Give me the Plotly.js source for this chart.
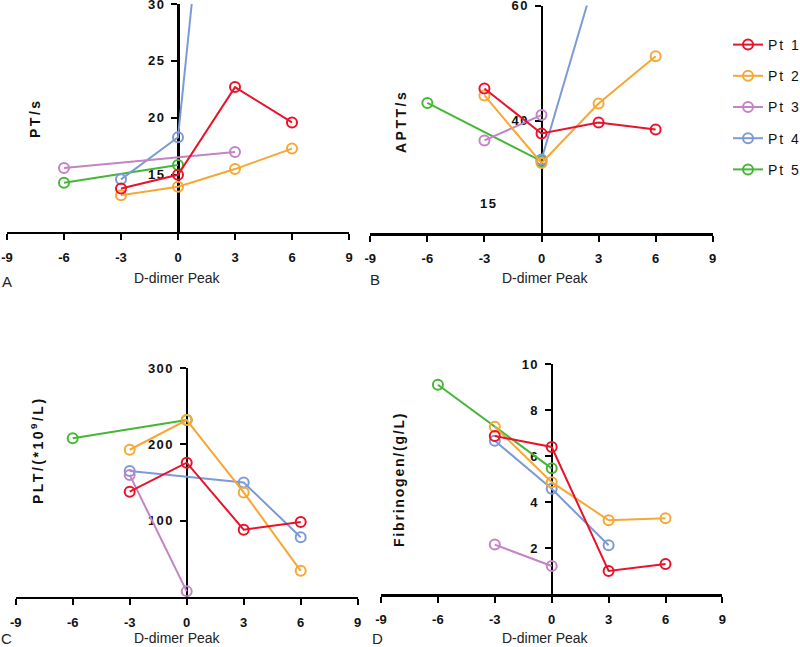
<!DOCTYPE html>
<html>
<head>
<meta charset="utf-8">
<script src="https://cdn.plot.ly/plotly-3.0.1.min.js"></script>
<style>html,body{margin:0;padding:0;background:#fff;}</style>
</head>
<body>
<div id="chart" style="width:800px;height:647px;"></div>
<script>
// ---- data ----
const patients = ['Pt 1', 'Pt 2', 'Pt 3', 'Pt 4', 'Pt 5'];
const colors = ['#E8132B', '#F6A735', '#C383C4', '#7C9BD6', '#46B637'];
const xTicks = [-9, -6, -3, 0, 3, 6, 9];

const days_PT = [[-3, 0, 3, 6], [-3, 0, 3, 6], [-6, 3], [-3, 0, 3], [-6, 0]];
const PT = [[13.8, 15.0, 22.7, 19.6], [13.2, 13.95, 15.5, 17.3], [15.6, 17.0], [14.6, 18.3, 67], [14.3, 15.85]];

const days_APTT = [[-3, 0, 3, 6], [-3, 0, 3, 6], [-3, 0], [0, 3], [-6, 0]];
const APTT = [[45.6, 37.8, 39.7, 38.5], [44.4, 32.7, 43.0, 51.2], [36.6, 41.0], [33.3, 66.9], [43.1, 33.0]];

const days_PLT = [[-3, 0, 3, 6], [-3, 0, 3, 6], [-3, 0], [-3, 3, 6], [-6, 0]];
const PLT = [[138, 176, 88, 98], [193, 232, 137, 34], [160, 7], [165, 150, 78], [208, 232]];

const days_FIB = [[-3, 0, 3, 6], [-3, 0, 3, 6], [-3, 0], [-3, 0, 3], [-6, 0]];
const FIB = [[6.88, 6.4, 1.0, 1.31], [7.28, 4.87, 3.21, 3.3], [2.15, 1.22], [6.67, 4.58, 2.12], [9.11, 5.47]];

const yTicksPT = [15, 20, 25, 30];
const yTicksAPTT = [40, 60];
const yTicksPLT = [100, 200, 300];
const yTicksFIB = [2, 4, 6, 8, 10];

// ---- build ----
const W = 800, H = 647;
const px = v => v / W;
const py = v => 1 - v / H;
const sp = (t, s) => '<span style="letter-spacing:' + s + 'px">' + t + '</span>';

const panels = [
  {days: days_PT, vals: PT, xa: 'x', ya: 'y'},
  {days: days_APTT, vals: APTT, xa: 'x2', ya: 'y2'},
  {days: days_PLT, vals: PLT, xa: 'x3', ya: 'y3'},
  {days: days_FIB, vals: FIB, xa: 'x4', ya: 'y4'}
];

const traces = [];
panels.forEach((p, pi) => {
  for (let i = patients.length - 1; i >= 0; i--) {
    traces.push({
      x: p.days[i], y: p.vals[i], xaxis: p.xa, yaxis: p.ya,
      type: 'scatter', mode: 'lines+markers',
      name: sp(patients[i], 2),
      legendgroup: 'g' + i, legendrank: i + 1,
      showlegend: pi === 0,
      line: {color: colors[i], width: 2},
      marker: {symbol: 'circle-open', size: 10, color: colors[i], line: {width: 2, color: colors[i]}},
      cliponaxis: true
    });
  }
});

const tickFont = {family: 'Liberation Sans, Arial, sans-serif', size: 13, color: '#111', weight: 'bold'};

function xAx(d0, d1, anchor) {
  return {
    domain: [px(d0), px(d1)], range: [-9, 9], anchor: anchor,
    tickvals: xTicks, ticktext: xTicks.map(String),
    ticks: 'outside', ticklen: 6, tickwidth: 2, tickcolor: '#000',
    showline: true, linewidth: 2.5, linecolor: '#000',
    showgrid: false, zeroline: false, layer: 'below traces',
    tickfont: tickFont, ticklabelstandoff: 6, ticklabeloverflow: 'allow', fixedrange: true
  };
}
function yAx(top, bottom, range, vals, xd0, xd1) {
  return {
    domain: [py(bottom), py(top)], range: range, anchor: 'free',
    position: (px(xd0) + px(xd1)) / 2,
    tickvals: vals, ticktext: vals.map(v => sp(String(v), 1.5)),
    ticks: 'outside', ticklen: 6, tickwidth: 2, tickcolor: '#000',
    showline: true, linewidth: 2.5, linecolor: '#000',
    showgrid: false, zeroline: false, layer: 'below traces',
    tickfont: tickFont, ticklabelstandoff: 3, ticklabeloverflow: 'allow', fixedrange: true
  };
}

const titleFont = {family: 'Liberation Sans, Arial, sans-serif', size: 14, color: '#111', weight: 'bold'};
const xtFont = {family: 'Liberation Sans, Arial, sans-serif', size: 14, color: '#222'};
const letterFont = {family: 'Liberation Sans, Arial, sans-serif', size: 15, color: '#222'};

function ann(text, x, y, font, angle) {
  return {text: text, x: px(x), y: py(y), xref: 'paper', yref: 'paper',
    xanchor: 'center', yanchor: 'middle', showarrow: false, font: font, textangle: angle || 0};
}

const annotations = [
  ann(sp('PT/s', 2.5), 35, 118, titleFont, -90),
  ann(sp('APTT/s', 2.5), 401, 122, titleFont, -90),
  ann(sp('PLT/(*10<sup>9</sup>/L)', 2.5), 37, 450, titleFont, -90),
  ann(sp('Fibrinogen/(g/L)', 1.8), 399, 480, titleFont, -90),
  ann('D-dimer Peak', 177, 278, xtFont),
  ann('D-dimer Peak', 545, 278, xtFont),
  ann('D-dimer Peak', 177, 638, xtFont),
  ann('D-dimer Peak', 545, 638, xtFont),
  ann('A', 7, 281, letterFont),
  ann('B', 375, 280, letterFont),
  ann('C', 6, 638, letterFont),
  ann('D', 377, 638, letterFont),
  ann(sp('15', 1.5), 489, 203, tickFont)
];

const layout = {
  width: W, height: H,
  margin: {l: 0, r: 0, t: 0, b: 0, pad: 0, autoexpand: false},
  paper_bgcolor: '#fff', plot_bgcolor: 'rgba(0,0,0,0)',
  showlegend: true,
  legend: {
    x: px(728), y: py(29), xanchor: 'left', yanchor: 'top',
    traceorder: 'grouped', tracegroupgap: 10,
    font: {family: 'Liberation Sans, Arial, sans-serif', size: 14, color: '#111'},
    bgcolor: 'rgba(0,0,0,0)', borderwidth: 0
  },
  xaxis: xAx(7, 349, 'y'),
  yaxis: yAx(4, 231.7, [10, 30], yTicksPT, 7, 349),
  xaxis2: xAx(370.3, 712.7, 'y2'),
  yaxis2: yAx(5.5, 233.3, [20.5, 60], yTicksAPTT, 370.3, 712.7),
  xaxis3: xAx(15.7, 357.7, 'y3'),
  yaxis3: yAx(368.3, 596.7, [0, 300], yTicksPLT, 15.7, 357.7),
  xaxis4: xAx(381, 722.4, 'y4'),
  yaxis4: yAx(364.3, 594, [0, 10], yTicksFIB, 381, 722.4),
  annotations: annotations
};

Plotly.newPlot('chart', traces, layout, {displayModeBar: false, staticPlot: true});
</script>
</body>
</html>
